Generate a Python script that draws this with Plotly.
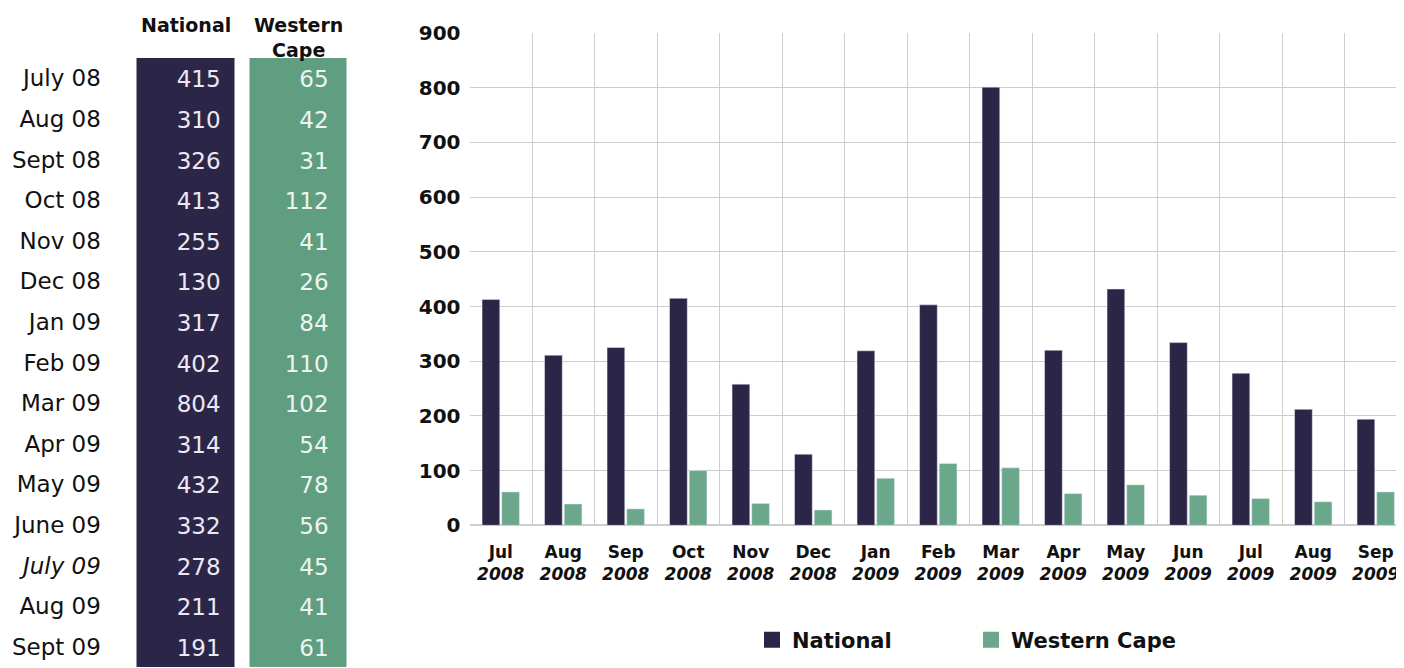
import plotly.graph_objects as go

# ---- data ----
table_months = ["July 08", "Aug 08", "Sept 08", "Oct 08", "Nov 08", "Dec 08", "Jan 09",
                "Feb 09", "Mar 09", "Apr 09", "May 09", "June 09", "<i>July 09</i>",
                "Aug 09", "Sept 09"]
table_national = [415, 310, 326, 413, 255, 130, 317, 402, 804, 314, 432, 332, 278, 211, 191]
table_wcape = [65, 42, 31, 112, 41, 26, 84, 110, 102, 54, 78, 56, 45, 41, 61]
table_headers = ["National", "Western<br>Cape"]

chart_months = ["Jul", "Aug", "Sep", "Oct", "Nov", "Dec", "Jan", "Feb", "Mar", "Apr",
                "May", "Jun", "Jul", "Aug", "Sep"]
chart_years = ["2008"] * 6 + ["2009"] * 9
chart_national = [413, 311, 325, 415, 258, 130, 319, 403, 801, 320, 432, 334, 278, 212, 194]
chart_wcape = [61, 39, 30, 100, 40, 28, 86, 113, 105, 58, 74, 55, 49, 43, 61]

NAVY = "#2b2647"
GREEN_BAR = "#6aa78b"
GREEN_TAB = "#5f9e80"
W, H = 1404, 668
OFF = 8  # page body margin offset


def px(x):
    return (x - OFF) / W


def py(y):
    return 1 - (y - OFF) / H


chart_cats = [f"{m}<br><i>{y}</i>" for m, y in zip(chart_months, chart_years)]

fig = go.Figure()

# ---- table as a heatmap ----
n = len(table_months)
rows = list(range(n))
fig.add_trace(go.Heatmap(
    x=[0, 1], y=rows,
    z=[[0, 1] for _ in range(n)],
    colorscale=[[0, NAVY], [1, GREEN_TAB]], showscale=False,
    xgap=15, ygap=0, hoverinfo="skip",
    xaxis="x2", yaxis="y2",
))
fig.add_trace(go.Scatter(
    x=[0.31] * n, y=[r + 0.08 for r in rows], mode="text",
    text=[str(v) for v in table_national], textposition="middle left",
    textfont=dict(family="DejaVu Sans", size=23, color="#ece8f4"),
    xaxis="x2", yaxis="y2", showlegend=False, hoverinfo="skip",
))
fig.add_trace(go.Scatter(
    x=[1.27] * n, y=[r + 0.08 for r in rows], mode="text",
    text=[str(v) for v in table_wcape], textposition="middle left",
    textfont=dict(family="DejaVu Sans", size=23, color="#eef4f0"),
    xaxis="x2", yaxis="y2", showlegend=False, hoverinfo="skip",
))
for i, h in enumerate(table_headers):
    fig.add_annotation(x=i, xref="x2", y=py(12), yref="paper", yanchor="top",
                       text=f"<b>{h}</b>", showarrow=False,
                       font=dict(family="DejaVu Sans", size=19, color="#111"))

# ---- bar chart ----
fig.add_trace(go.Bar(x=chart_cats, y=chart_national, marker_color=NAVY,
                     name="National", showlegend=False))
fig.add_trace(go.Bar(x=chart_cats, y=chart_wcape, marker_color=GREEN_BAR,
                     name="Western Cape", showlegend=False))
# legend entries with larger squares
fig.add_trace(go.Scatter(x=[None], y=[None], mode="markers", name="National",
                         marker=dict(symbol="square", size=20, color=NAVY)))
fig.add_trace(go.Scatter(x=[None], y=[None], mode="markers", name="Western Cape",
                         marker=dict(symbol="square", size=20, color=GREEN_BAR)))

fig.update_layout(
    width=W, height=H,
    margin=dict(l=0, r=0, t=0, b=0, autoexpand=False),
    paper_bgcolor="white", plot_bgcolor="white",
    barmode="group", bargap=0.37, bargroupgap=0.1,
    font=dict(family="DejaVu Sans", color="#111"),
    xaxis=dict(domain=[px(469.5), 1.0], range=[-0.5, -0.5 + (W - px(469.5) * W) / 62.5],
               tickson="boundaries",
               showgrid=True, gridcolor="#cdcdcd", gridwidth=1,
               ticks="", ticklabelstandoff=15,
               showline=False, zeroline=False,
               tickfont=dict(family="DejaVu Sans", size=17, color="#111", weight="bold")),
    yaxis=dict(domain=[py(525.3), py(33)], range=[0, 900], dtick=100,
               showgrid=True, gridcolor="#cdcdcd", gridwidth=1,
               zeroline=True, zerolinecolor="#cdcdcd", showline=False,
               ticks="outside", ticklen=4, tickcolor="rgba(0,0,0,0)",
               tickfont=dict(family="DejaVu Sans", size=20, color="#111", weight="bold")),
    xaxis2=dict(domain=[px(129.5), px(354.5)], range=[-0.5, 1.5], showticklabels=False,
                anchor="y2", showgrid=False, zeroline=False, fixedrange=True),
    yaxis2=dict(domain=[py(667), py(58)], range=[n - 0.5, -0.5], anchor="x2",
                tickmode="array", tickvals=rows, ticktext=table_months,
                ticks="outside", ticklen=23, tickcolor="rgba(0,0,0,0)",
                showgrid=False, zeroline=False,
                tickfont=dict(family="DejaVu Sans", size=23, color="#111")),
    legend=dict(orientation="h", x=px(752), xanchor="left", y=py(640), yanchor="middle",
                entrywidth=174, bgcolor="rgba(0,0,0,0)",
                font=dict(family="DejaVu Sans", size=21, color="#111", weight="bold")),
)

fig.write_html("out.html")
